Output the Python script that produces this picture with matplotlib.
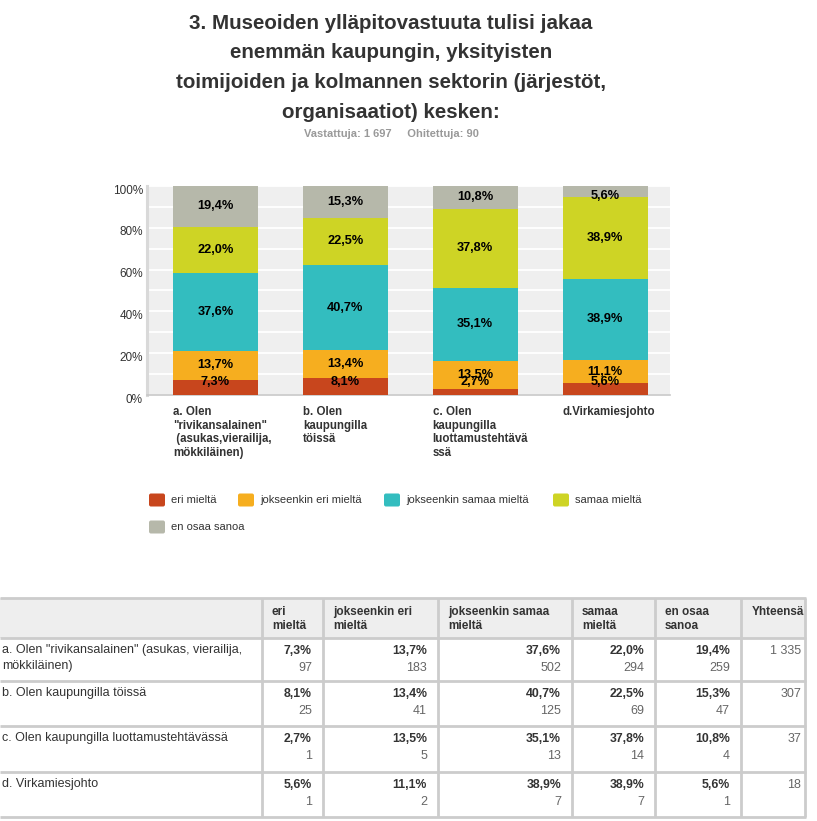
import matplotlib
matplotlib.use('Agg')
import matplotlib.pyplot as plt
from matplotlib.patches import Rectangle, FancyBboxPatch
from matplotlib.transforms import ScaledTranslation

plt.rcParams['font.family'] = ['Liberation Sans', 'DejaVu Sans']

W, H = 817, 821

# texts
title_lines = ['3. Museoiden ylläpitovastuuta tulisi jakaa',
               'enemmän kaupungin, yksityisten',
               'toimijoiden ja kolmannen sektorin (järjestöt,',
               'organisaatiot) kesken:']
subtitle = 'Vastattuja: 1 697     Ohitettuja: 90'
groups = ['a. Olen\n"rivikansalainen"\n (asukas,vierailija,\nmökkiläinen)',
          'b. Olen\nkaupungilla\ntöissä',
          'c. Olen\nkaupungilla\nluottamustehtävä\nssä',
          'd.Virkamiesjohto']
row_labels = ['a. Olen "rivikansalainen" (asukas, vierailija,\nmökkiläinen)',
              'b. Olen kaupungilla töissä',
              'c. Olen kaupungilla luottamustehtävässä',
              'd. Virkamiesjohto']
answers = ['eri mieltä', 'jokseenkin eri mieltä', 'jokseenkin samaa mieltä',
           'samaa mieltä', 'en osaa sanoa']
header_labels = ['eri\nmieltä', 'jokseenkin eri\nmieltä', 'jokseenkin samaa\nmieltä',
                 'samaa\nmieltä', 'en osaa\nsanoa']
total_header = 'Yhteensä'
colors = ['#c8461d', '#f6ae1f', '#33bdbf', '#ced425', '#b6b8aa']

# percentages per answer
eri = [7.3, 8.1, 2.7, 5.6]
jok_eri = [13.7, 13.4, 13.5, 11.1]
jok_samaa = [37.6, 40.7, 35.1, 38.9]
samaa = [22.0, 22.5, 37.8, 38.9]
en_osaa = [19.4, 15.3, 10.8, 5.6]

# counts per answer
eri_n = [97, 25, 1, 1]
jok_eri_n = [183, 41, 5, 2]
jok_samaa_n = [502, 125, 13, 7]
samaa_n = [294, 69, 14, 7]
en_osaa_n = [259, 47, 4, 1]
totals = ['1 335', '307', '37', '18']

pcts = [eri, jok_eri, jok_samaa, samaa, en_osaa]
counts = [eri_n, jok_eri_n, jok_samaa_n, samaa_n, en_osaa_n]


def fmt(v):
    return ('%.1f%%' % v).replace('.', ',')


fig = plt.figure(figsize=(W / 100, H / 100), dpi=100)

# overlay in pixel units for title, legend and table
ov = fig.add_axes([0, 0, 1, 1])
ov.set_xlim(0, W)
ov.set_ylim(H, 0)
ov.axis('off')

# title
title_base = [29, 58, 88, 118]
for line, yb in zip(title_lines, title_base):
    ov.text(391, yb, line, ha='center', va='baseline', fontsize=14.8,
            fontweight='bold', color='#333333')
ov.text(391, 137, subtitle, ha='center', va='baseline', fontsize=8,
        fontweight='bold', color='#999999')

# chart
ax = fig.add_axes([147 / W, 1 - 395 / H, 523 / W, 209 / H])
ax.set_facecolor('#efefef')
x = list(range(len(groups)))
bw = 0.655
bottom = [0.0] * len(groups)
for vals, col in zip(pcts, colors):
    ax.bar(x, vals, bw, bottom=bottom, color=col, zorder=3)
    for i, v in enumerate(vals):
        yc = bottom[i] + v / 2
        yc = min(max(yc, 6.0), 95.0)
        ax.text(i, yc, fmt(v), ha='center', va='center', fontsize=9.2,
                fontweight='bold', color='black', zorder=4)
    bottom = [b + v for b, v in zip(bottom, vals)]

ax.set_xlim(-0.528, 3.5)
ax.set_ylim(0, 100)
ax.set_yticks(range(0, 101, 20))
ax.set_yticks(range(10, 100, 20), minor=True)
ax.set_yticklabels(['%d%%' % t for t in range(0, 101, 20)])
ax.yaxis.grid(True, which='both', color='white', lw=1.3, zorder=1)
ax.set_xticks([])
ax.tick_params(axis='y', which='both', length=0, pad=3, labelsize=8.5,
               labelcolor='#333333')
shift = ScaledTranslation(0, -3 / 100, fig.dpi_scale_trans)
for lab in ax.get_yticklabels():
    lab.set_transform(lab.get_transform() + shift)
for s in ['top', 'right']:
    ax.spines[s].set_visible(False)
ax.spines['left'].set_color('#d9d9d9')
ax.spines['left'].set_linewidth(2.2)
ax.spines['bottom'].set_color('#c8c8c8')
ax.spines['bottom'].set_linewidth(1.2)

for i, g in enumerate(groups):
    ax.text(i - bw / 2, -0.055, g, transform=ax.get_xaxis_transform(),
            ha='left', va='top', fontsize=8.3, fontweight='bold',
            color='#333333', linespacing=1.15)

# legend (flow layout)
leg_pos = [(149, 500), (238, 500), (384, 500), (553, 500), (149, 527)]
for (lx, ly), lab, col in zip(leg_pos, answers, colors):
    ov.add_patch(FancyBboxPatch((lx, ly - 6.5), 16, 13,
                                boxstyle='round,pad=0,rounding_size=2',
                                fc=col, ec='none'))
    ov.text(lx + 22, ly, lab, ha='left', va='center', fontsize=8,
            color='#333333')

# table
col_edges = [0, 262, 323, 438, 572, 655, 741, 805]
row_edges = [598, 638, 681, 726, 772, 817]
line_c = '#cccccc'
ov.add_patch(Rectangle((0, row_edges[0]), col_edges[-1], row_edges[1] - row_edges[0],
                       fc='#eeeeee', ec='none'))
for ry in row_edges:
    ov.plot([0, col_edges[-1] + 1], [ry, ry], color=line_c, lw=2, solid_capstyle='butt')
for cx in col_edges[1:]:
    ov.plot([cx, cx], [row_edges[0], row_edges[-1]], color=line_c, lw=2,
            solid_capstyle='butt')

for j, hl in enumerate(header_labels):
    ov.text(col_edges[j + 1] + 10, 606, hl, ha='left', va='top', fontsize=8.5,
            fontweight='bold', color='#333333', linespacing=1.25)
ov.text(col_edges[-2] + 11, 606, total_header, ha='left', va='top', fontsize=8.5,
        fontweight='bold', color='#333333')

for i, rl in enumerate(row_labels):
    top = row_edges[i + 1]
    ov.text(2, top + 6, rl, ha='left', va='top', fontsize=9, color='#333333',
            linespacing=1.5)
    for j in range(len(answers)):
        xr = col_edges[j + 2] - 11
        ov.text(xr, top + 13, fmt(pcts[j][i]), ha='right', va='center',
                fontsize=8.8, fontweight='bold', color='#333333')
        ov.text(xr, top + 30, str(counts[j][i]), ha='right', va='center',
                fontsize=9, color='#666666')
    ov.text(col_edges[-1] - 4, top + 13, totals[i], ha='right', va='center',
            fontsize=9, color='#666666')

fig.savefig('out.png', dpi=100)
